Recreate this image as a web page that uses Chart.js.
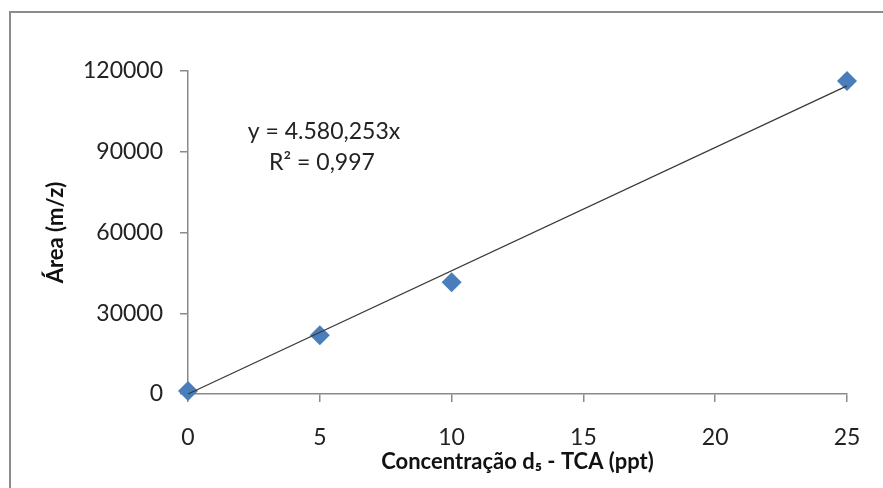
<!DOCTYPE html>
<html>
<head>
<meta charset="utf-8">
<script src="https://cdn.jsdelivr.net/npm/chart.js@4"></script>
<style>
  html, body { margin: 0; padding: 0; background: #fff; }
  #wrap { width: 883px; height: 488px; position: relative; }
</style>
</head>
<body>
<div id="wrap"><canvas id="chart" width="883" height="488"></canvas></div>
<script>
// Data
const concentrations = [0, 5, 10, 25];
const areas = [1100, 21800, 41500, 116300];
const xTicks = [0, 5, 10, 15, 20, 25];
const yTicks = [0, 30000, 60000, 90000, 120000];

// Trendline as printed on the chart
const trendSlope = 4580.253;
const trendX = [0, 25];
const trendLabel = ["y = 4.580,253x", "R\u00b2 = 0,997"];

const FONT = "Lato, 'Open Sans', sans-serif";
const AXIS_GREY = "#8a8a8a";

// Frame round the chart + the equation label
const extras = {
  id: "extras",
  beforeDraw(chart) {
    const c = chart.ctx;
    c.save();
    c.fillStyle = "#fff";
    c.fillRect(0, 0, chart.width, chart.height);
    c.strokeStyle = "#8c8c8c";
    c.lineWidth = 2;
    c.strokeRect(10, 12, chart.width + 20, chart.height + 20);
    c.restore();
  },
  afterDraw(chart) {
    const c = chart.ctx;
    c.save();
    c.fillStyle = "#222";
    c.font = "23px " + FONT;
    c.textAlign = "center";
    c.textBaseline = "middle";
    c.fillText(trendLabel[0], 324, 132);
    c.fillText(trendLabel[1], 322, 163);
    c.restore();
  }
};

const ctx = document.getElementById("chart").getContext("2d");
const chart = new Chart(ctx, {
  type: "scatter",
  data: {
    datasets: [
      {
        label: "Linear",
        type: "line",
        data: trendX.map(x => ({ x: x, y: trendSlope * x })),
        borderColor: "#3a3a3a",
        borderWidth: 1.3,
        pointRadius: 0,
        fill: false,
        clip: false,
        order: 0,
      },
      {
        label: "Área",
        data: concentrations.map((x, i) => ({ x: x, y: areas[i] })),
        pointStyle: "rectRot",
        pointRadius: 10,
        pointBackgroundColor: "#4a7ebb",
        pointBorderColor: "#4a7ebb",
        pointBorderWidth: 0,
        showLine: false,
        clip: false,
        order: 1,
      },
    ],
  },
  options: {
    responsive: false,
    animation: false,
    events: [],
    layout: { padding: { top: 71, right: 36, left: 0, bottom: 0 } },
    plugins: {
      legend: { display: false },
      tooltip: { enabled: false },
    },
    scales: {
      x: {
        type: "linear",
        min: 0,
        max: 25,
        afterBuildTicks: s => { s.ticks = xTicks.map(v => ({ value: v })); },
        afterFit: s => { s.height = 488 - 394; },
        border: { display: true, color: AXIS_GREY, width: 1.5 },
        grid: { display: true, drawOnChartArea: false, drawTicks: true, tickLength: 8, color: AXIS_GREY, lineWidth: 1.5 },
        ticks: { color: "#222", font: { family: FONT, size: 23 }, padding: 22, maxRotation: 0 },
        title: {
          display: true,
          text: "Concentração d\u2085 - TCA (ppt)",
          color: "#111",
          font: { family: FONT, size: 22, weight: "bold" },
          padding: { top: 0, bottom: 13 },
        },
      },
      y: {
        type: "linear",
        min: 0,
        max: 120000,
        afterBuildTicks: s => { s.ticks = yTicks.map(v => ({ value: v })); },
        afterFit: s => { s.width = 188; },
        border: { display: true, color: AXIS_GREY, width: 1.5 },
        grid: { display: true, drawOnChartArea: false, drawTicks: true, tickLength: 8, color: AXIS_GREY, lineWidth: 1.5 },
        ticks: { color: "#222", font: { family: FONT, size: 23 }, padding: 17, callback: v => String(v) },
        title: {
          display: true,
          text: "Área (m/z)",
          color: "#111",
          font: { family: FONT, size: 22, weight: "bold" },
          padding: { top: 43, bottom: 0 },
        },
      },
    },
  },
  plugins: [extras],
});
</script>
</body>
</html>
